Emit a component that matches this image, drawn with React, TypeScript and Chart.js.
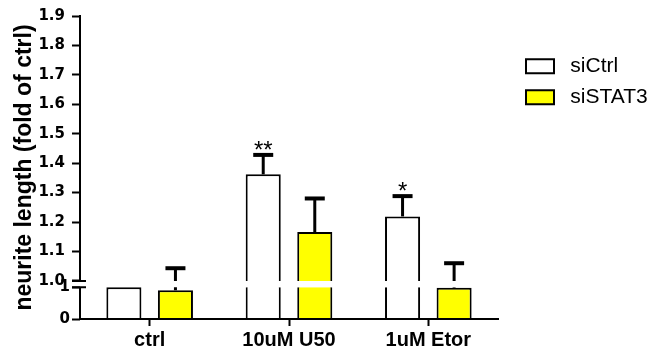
import React, { useEffect, useRef } from 'react';
import { Chart, registerables } from 'chart.js';

Chart.register(...registerables);

// ---- data ----
const categories: string[] = ['ctrl', '10uM U50', '1uM Etor'];
const seriesNames: string[] = ['siCtrl', 'siSTAT3'];
const siCtrlMeans: number[] = [1.0, 1.362, 1.219];
const siCtrlSem: number[] = [0, 0.066, 0.069];
const siSTAT3Means: number[] = [0.906, 1.166, 0.99];
const siSTAT3Sem: number[] = [0.137, 0.114, 0.07];
const siCtrlMarks: string[] = ['', '**', '*'];
const siSTAT3Marks: string[] = ['', '', ''];
const breakValue = 1.0;
const lowerRange: number[] = [0, 1.203];
const upperRange: number[] = [1.0, 1.9];
const lowerTickValues: number[] = [0, 1];
const lowerTickLabels: string[] = ['0', '1'];
const upperTickValues: number[] = [1.0, 1.1, 1.2, 1.3, 1.4, 1.5, 1.6, 1.7, 1.8, 1.9];
const upperTickLabels: string[] = ['1.0', '1.1', '1.2', '1.3', '1.4', '1.5', '1.6', '1.7', '1.8', '1.9'];
const yTitle = 'neurite length (fold of ctrl)';
const seriesColors: string[] = ['#ffffff', '#ffff00'];

const series = [
  { name: seriesNames[0], means: siCtrlMeans, sem: siCtrlSem, marks: siCtrlMarks, color: seriesColors[0] },
  { name: seriesNames[1], means: siSTAT3Means, sem: siSTAT3Sem, marks: siSTAT3Marks, color: seriesColors[1] },
];

const ARIAL = '"Liberation Sans", Arial, sans-serif';
const tickFont = { family: '"DejaVu Sans", sans-serif', weight: 'bold' as const, size: 15 };

const barShape = { barPercentage: 0.68, categoryPercentage: 0.74 };

const upperSets = series.map((s) => ({
  label: s.name,
  data: s.means.map((v) => (v > breakValue ? [breakValue, v] : null)),
  yAxisID: 'yUp',
  stack: s.name,
  backgroundColor: s.color,
  borderColor: '#000000',
  borderWidth: 2,
  borderSkipped: 'start',
  ...barShape,
}));

const lowerSets = series.map((s) => ({
  label: s.name,
  data: s.means.map((v) => Math.min(v, breakValue)),
  yAxisID: 'yLow',
  stack: s.name,
  backgroundColor: s.color,
  borderColor: '#000000',
  borderWidth: (ctx: any) =>
    s.means[ctx.dataIndex] > breakValue ? { top: 0, bottom: 0, left: 2, right: 2 } : 2,
  borderSkipped: 'start',
  ...barShape,
}));

const errorBarPlugin = {
  id: 'errorBars',
  afterDatasetsDraw(chart: any) {
    const { ctx } = chart;
    const low = chart.scales.yLow;
    const up = chart.scales.yUp;
    const pix = (v: number) => (v > breakValue ? up.getPixelForValue(v) : low.getPixelForValue(v));
    ctx.save();
    series.forEach((s, si) => {
      const meta = chart.getDatasetMeta(series.length + si);
      s.means.forEach((m, i) => {
        const bar = meta.data[i];
        if (!bar) return;
        const x = bar.x;
        const top = m + s.sem[i];
        if (s.sem[i] > 0) {
          ctx.strokeStyle = '#000';
          ctx.lineCap = 'butt';
          ctx.lineWidth = 3;
          ctx.beginPath();
          if (m < breakValue) {
            ctx.moveTo(x, low.getPixelForValue(m));
            ctx.lineTo(x, low.getPixelForValue(Math.min(top, breakValue)));
          }
          if (top > breakValue) {
            ctx.moveTo(x, up.getPixelForValue(Math.max(m, breakValue)));
            ctx.lineTo(x, up.getPixelForValue(top));
          }
          ctx.stroke();
          ctx.lineWidth = 4;
          ctx.beginPath();
          const yc = pix(top);
          ctx.moveTo(x - 10, yc);
          ctx.lineTo(x + 10, yc);
          ctx.stroke();
        }
        if (s.marks[i]) {
          ctx.fillStyle = '#000';
          ctx.font = '24px ' + ARIAL;
          ctx.textAlign = 'center';
          ctx.textBaseline = 'alphabetic';
          ctx.fillText(s.marks[i], x, pix(top) + 3);
        }
      });
    });
    ctx.restore();
  },
};

const axisBreakPlugin = {
  id: 'axisBreak',
  afterDraw(chart: any) {
    const { ctx } = chart;
    const low = chart.scales.yLow;
    const up = chart.scales.yUp;
    const x = Math.round(low.right);
    const yUpBreak = up.getPixelForValue(breakValue);
    const yLowBreak = low.getPixelForValue(breakValue);
    const yZero = low.getPixelForValue(lowerRange[0]);
    ctx.save();
    ctx.strokeStyle = '#000';
    ctx.lineWidth = 2;
    ctx.lineCap = 'butt';
    ctx.beginPath();
    ctx.moveTo(x, yLowBreak);
    ctx.lineTo(x, yZero + 1);
    ctx.moveTo(x - 8, yUpBreak);
    ctx.lineTo(x + 6, yUpBreak);
    ctx.moveTo(x - 8, yLowBreak);
    ctx.lineTo(x + 6, yLowBreak);
    ctx.stroke();
    ctx.restore();
  },
};

const yGrid = {
  display: true,
  drawOnChartArea: false,
  drawTicks: true,
  tickLength: 8,
  tickWidth: 2,
  tickColor: '#000000',
  color: '#000000',
};

const STACK_WIDTH = 41.6;

export default function App() {
  const ref = useRef<HTMLCanvasElement>(null);
  useEffect(() => {
    if (!ref.current) return;
    const defaultGen = (Chart.defaults as any).plugins.legend.labels.generateLabels;
    const chart = new Chart(ref.current, {
      type: 'bar',
      data: {
        labels: categories,
        datasets: [...upperSets, ...lowerSets] as any,
      },
      plugins: [errorBarPlugin, axisBreakPlugin],
      options: {
        responsive: false,
        maintainAspectRatio: false,
        animation: false,
        events: [],
        layout: { padding: { top: 15, right: 3, bottom: 2, left: 0 } },
        plugins: {
          tooltip: { enabled: false },
          legend: {
            display: true,
            position: 'right',
            align: 'start',
            maxWidth: 138,
            title: { display: true, text: '', padding: { top: 8, bottom: 8.4 }, font: { size: 12 } },
            labels: {
              boxWidth: 28,
              boxHeight: 14,
              padding: 10,
              color: '#000000',
              font: { family: ARIAL, size: 21 },
              filter: (item: any) => item.datasetIndex < series.length,
              generateLabels: (c: any) =>
                defaultGen(c).map((l: any) => ({ ...l, text: ' ' + l.text })),
            },
          },
        },
        scales: {
          x: {
            type: 'category',
            offset: true,
            grid: {
              display: true,
              drawOnChartArea: false,
              offset: false,
              tickLength: 7,
              tickWidth: 2,
              tickColor: '#000000',
              color: '#000000',
            },
            border: { display: true, color: '#000000', width: 2, z: 1 },
            ticks: {
              color: '#000000',
              font: { family: ARIAL, weight: 'bold', size: 20 },
              padding: 2,
              maxRotation: 0,
              autoSkip: false,
            },
          },
          yLow: {
            type: 'linear',
            axis: 'y',
            position: 'left',
            stack: 'yStack',
            stackWeight: 38.5,
            weight: 1,
            stacked: false,
            min: lowerRange[0],
            max: lowerRange[1],
            afterBuildTicks: (s: any) => {
              s.ticks = lowerTickValues.map((v) => ({ value: v }));
            },
            afterFit: (s: any) => {
              s.width = STACK_WIDTH;
            },
            ticks: {
              autoSkip: false,
              padding: 2,
              color: '#000000',
              font: tickFont,
              callback: (_v: any, i: number) => lowerTickLabels[i],
            },
            grid: yGrid,
            border: { display: false },
          },
          yUp: {
            type: 'linear',
            axis: 'y',
            position: 'left',
            stack: 'yStack',
            stackWeight: 267.5,
            weight: 2,
            stacked: false,
            min: upperRange[0],
            max: upperRange[1],
            afterBuildTicks: (s: any) => {
              s.ticks = upperTickValues.map((v) => ({ value: v }));
            },
            afterFit: (s: any) => {
              s.width = STACK_WIDTH;
            },
            ticks: {
              autoSkip: false,
              padding: 7,
              color: '#000000',
              font: tickFont,
              callback: (_v: any, i: number) => upperTickLabels[i],
            },
            grid: yGrid,
            border: { display: true, color: '#000000', width: 2 },
          },
          yTitle: {
            type: 'linear',
            axis: 'y',
            position: 'left',
            weight: 10,
            min: 0,
            max: 1,
            grid: { display: false, drawTicks: false },
            border: { display: false },
            ticks: { display: false },
            title: {
              display: true,
              text: yTitle,
              color: '#000000',
              font: { family: ARIAL, weight: 'bold', size: 23 },
              padding: { top: 11, bottom: 0 },
            },
            afterFit: (s: any) => {
              s.width = 38.4;
            },
          },
          spacer: {
            type: 'linear',
            axis: 'y',
            position: 'right',
            weight: 0,
            min: 0,
            max: 1,
            grid: { display: false, drawTicks: false },
            border: { display: false },
            ticks: { display: false },
            afterFit: (s: any) => {
              s.width = 18;
            },
          },
        } as any,
      },
    } as any);
    return () => chart.destroy();
  }, []);
  return (
    <div style={{ position: 'fixed', left: 0, top: 0, width: 657, height: 356, background: '#ffffff' }}>
      <canvas ref={ref} width={657} height={356} style={{ display: 'block' }} />
    </div>
  );
}
